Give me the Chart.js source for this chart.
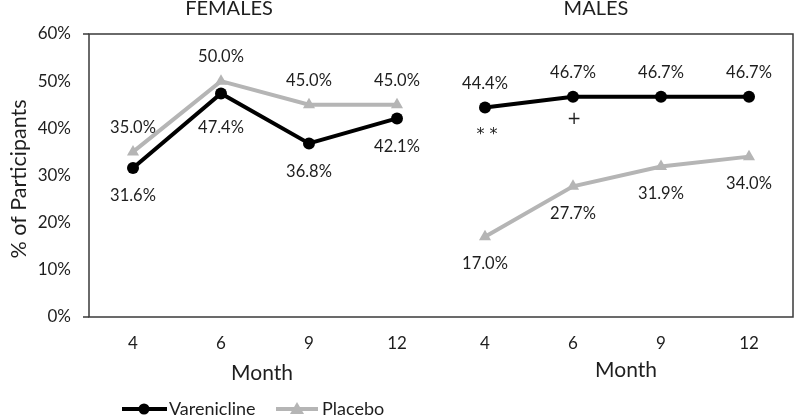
<!DOCTYPE html>
<html>
<head>
<meta charset="utf-8">
<script src="https://cdn.jsdelivr.net/npm/chart.js@4.4.0/dist/chart.umd.min.js"></script>
<style>
  html, body { margin: 0; padding: 0; background: #fff; }
  #wrap { width: 800px; height: 417px; }
</style>
</head>
<body>
<div id="wrap"><canvas id="chart" width="800" height="417"></canvas></div>
<script>
// months shown in each panel
let months = ['4', '6', '9', '12'];
let panels = ['FEMALES', 'MALES'];

// % of participants
let femaleVarenicline = [31.6, 47.4, 36.8, 42.1];
let femalePlacebo = [35.0, 50.0, 45.0, 45.0];
let maleVarenicline = [44.4, 46.7, 46.7, 46.7];
let malePlacebo = [17.0, 27.7, 31.9, 34.0];

// significance marks under the male varenicline points
let maleMarks = ['**', '+', '', ''];

let yTicks = [0, 10, 20, 30, 40, 50, 60];

const FONT = 'Lato, "Open Sans", "DejaVu Sans", sans-serif';
const TXT = '#1e1e1e';
const GREY = '#b5b5b5';

var labels = months.concat(months);
var varData = femaleVarenicline.concat(maleVarenicline);
var plaData = femalePlacebo.concat(malePlacebo);
var marks = ['', '', '', ''].concat(maleMarks);

// label above or below each point (females: placebo above, males: varenicline above)
var varAbove = [false, false, false, false, true, true, true, true];

function breakAt(color) {
  return function(ctx) {
    return ctx.p0DataIndex === months.length - 1 ? 'rgba(0,0,0,0)' : color;
  };
}

const extras = {
  id: 'extras',
  beforeDatasetsDraw(chart) {
    var c = chart.ctx, a = chart.chartArea;
    c.save();
    c.strokeStyle = '#3a3a3a';
    c.lineWidth = 1.5;
    c.strokeRect(a.left, a.top, a.right - a.left, a.bottom - a.top);
    c.beginPath();
    c.moveTo(a.left - 6, a.top); c.lineTo(a.left, a.top);
    c.moveTo(a.left - 6, a.bottom); c.lineTo(a.left, a.bottom);
    c.stroke();
    c.restore();
  },
  afterDatasetsDraw(chart) {
    var c = chart.ctx;
    c.save();
    c.fillStyle = TXT;
    c.textAlign = 'center';
    c.textBaseline = 'middle';
    var vm = chart.getDatasetMeta(0), pm = chart.getDatasetMeta(1);
    for (var i = 0; i < labels.length; i++) {
      var vp = vm.data[i], pp = pm.data[i];
      var vUp = varAbove[i];
      var vOff = vUp ? -24 : 28;
      if (i === 1) vOff = 34;
      c.font = '16.5px ' + FONT;
      c.fillText(varData[i].toFixed(1) + '%', vp.x, vp.y + vOff);
      c.fillText(plaData[i].toFixed(1) + '%', pp.x, pp.y + (vUp ? 27 : -24));
      if (marks[i] === '**') {
        c.font = '16px "DejaVu Sans", sans-serif';
        c.fillText('* *', vp.x + 2, vp.y + 27);
      } else if (marks[i]) {
        c.font = '17px "DejaVu Sans", sans-serif';
        c.fillText(marks[i], vp.x + 1, vp.y + 23);
      }
    }

    // panel titles
    c.font = '20px ' + FONT;
    c.fillText(panels[0], 229, 9);
    c.fillText(panels[1], 596, 9);

    // axis titles
    c.font = '21px ' + FONT;
    c.fillText('Month', 262, 373);
    c.fillText('Month', 626, 370);
    c.save();
    c.translate(19, 179);
    c.rotate(-Math.PI / 2);
    c.font = '21.5px ' + FONT;
    c.fillText('% of Participants', 0, 0);
    c.restore();

    // legend
    var ly = 409;
    c.lineWidth = 4;
    c.strokeStyle = '#000';
    c.beginPath(); c.moveTo(122, ly); c.lineTo(167, ly); c.stroke();
    c.fillStyle = '#000';
    c.beginPath(); c.arc(144, ly, 5.5, 0, Math.PI * 2); c.fill();
    c.strokeStyle = GREY;
    c.beginPath(); c.moveTo(276, ly); c.lineTo(318, ly); c.stroke();
    c.fillStyle = GREY;
    c.beginPath(); c.moveTo(297, ly - 7); c.lineTo(304, ly + 5); c.lineTo(290, ly + 5); c.closePath(); c.fill();
    c.fillStyle = TXT;
    c.textAlign = 'left';
    c.font = '18px ' + FONT;
    c.fillText(chart.data.datasets[0].label, 169, ly);
    c.fillText(chart.data.datasets[1].label, 322, ly);
    c.restore();
  }
};

new Chart(document.getElementById('chart'), {
  type: 'line',
  data: {
    labels: labels,
    datasets: [{
      label: 'Varenicline',
      data: varData,
      borderColor: '#000',
      backgroundColor: '#000',
      borderWidth: 4,
      pointStyle: 'circle',
      pointRadius: 6,
      pointHoverRadius: 6,
      pointBorderWidth: 0,
      segment: { borderColor: breakAt('#000') },
      order: 1
    }, {
      label: 'Placebo',
      data: plaData,
      borderColor: GREY,
      backgroundColor: GREY,
      borderWidth: 4,
      pointStyle: 'triangle',
      pointRadius: 7,
      pointHoverRadius: 7,
      pointBorderWidth: 0,
      segment: { borderColor: breakAt(GREY) },
      order: 2
    }]
  },
  options: {
    responsive: false,
    animation: false,
    layout: { padding: { left: 0, right: 2, top: 34, bottom: 0 } },
    plugins: {
      legend: { display: false },
      tooltip: { enabled: false }
    },
    scales: {
      x: {
        type: 'category',
        offset: true,
        grid: { display: false },
        border: { display: false },
        ticks: { color: TXT, font: { family: FONT, size: 17 }, padding: 8, maxRotation: 0 },
        afterFit: function(s) { s.height = 100; }
      },
      y: {
        min: 0,
        max: 60,
        grid: { display: false },
        border: { display: false },
        afterBuildTicks: function(s) { s.ticks = yTicks.map(function(v) { return { value: v }; }); },
        ticks: {
          color: TXT,
          padding: 10,
          font: { family: FONT, size: 17 },
          callback: function(v) { return v + '%'; }
        },
        afterFit: function(s) { s.width = 89; }
      }
    }
  },
  plugins: [extras]
});
</script>
</body>
</html>
